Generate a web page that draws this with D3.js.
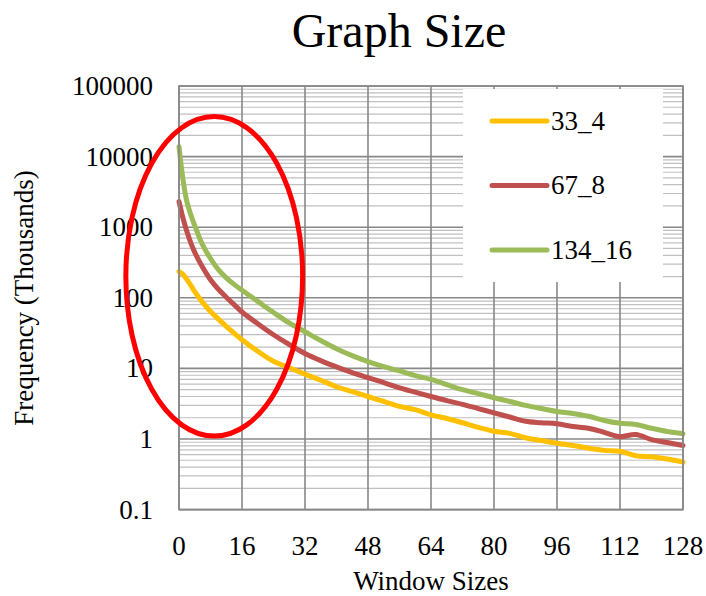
<!DOCTYPE html>
<html>
<head>
<meta charset="utf-8">
<script src="https://cdn.jsdelivr.net/npm/d3@7"></script>
<style>
  body { margin: 0; background: #fff; }
  text { font-family: "Liberation Serif", "DejaVu Serif", serif; fill: #000; }
</style>
</head>
<body>
<div id="chart"></div>
<script>

// window sizes the values were read at
const windowSizes = [0, 1, 2, 3, 4, 6, 8, 10, 12, 14, 16, 20, 24, 28, 32, 36, 40, 44, 48, 52, 56, 60,
  64, 68, 72, 76, 80, 84, 88, 92, 96, 100, 104, 108, 112, 116, 120, 124, 128];

// frequencies in thousands
const g33_4 = [235, 215, 182, 150, 122, 86, 64, 50, 39.5, 31.5, 25.5, 17.5, 12.6, 10.2, 8.3, 6.8, 5.5, 4.7, 4.0, 3.4, 2.9, 2.6,
  2.2, 1.95, 1.7, 1.46, 1.29, 1.2, 1.04, 0.95, 0.87, 0.81, 0.74, 0.69, 0.67, 0.58, 0.56, 0.52, 0.47];
const g67_8 = [2300, 1350, 870, 600, 440, 270, 180, 132, 102, 80, 63, 43, 30, 21.8, 16.3, 12.9, 10.5, 8.7, 7.4, 6.3, 5.3, 4.6,
  4.0, 3.5, 3.1, 2.7, 2.35, 2.05, 1.78, 1.70, 1.64, 1.5, 1.42, 1.24, 1.08, 1.16, 0.98, 0.89, 0.81];
const g134_16 = [13800, 4800, 2300, 1500, 1050, 560, 360, 250, 192, 155, 128, 89, 62, 44, 33, 24.8, 19, 15.2, 12.5, 10.6, 9.2, 7.9,
  7.0, 5.9, 5.0, 4.4, 3.84, 3.4, 3.0, 2.7, 2.45, 2.3, 2.1, 1.83, 1.67, 1.6, 1.42, 1.28, 1.19];

const seriesNames = ["33_4", "67_8", "134_16"];
const seriesColors = ["#FFC000", "#C0504D", "#9BBB59"];
const xTicks = [0, 16, 32, 48, 64, 80, 96, 112, 128];
const yTicks = [0.1, 1, 10, 100, 1000, 10000, 100000];
const yTickLabels = ["0.1", "1", "10", "100", "1000", "10000", "100000"];

// the red ellipse drawn over the first part of the curves (data units)
const ringX = [-13.5, 31.4];
const ringY = [1.1, 37000];

const width = 706, height = 596;
const plot = { left: 179, right: 683, top: 86, bottom: 509.6 };

const svg = d3.select("#chart").append("svg")
  .attr("width", width)
  .attr("height", height);

const x = d3.scaleLinear().domain([0, 128]).range([plot.left, plot.right]);
const y = d3.scaleLog().domain([0.1, 100000]).range([plot.bottom, plot.top]);

// minor horizontal grid
const minor = [];
yTicks.slice(0, -1).forEach(t => {
  for (let k = 2; k <= 9; k++) minor.push(t * k);
});

const grid = svg.append("g");
grid.selectAll(".minor")
  .data(minor)
  .enter().append("line")
  .attr("x1", plot.left).attr("x2", plot.right)
  .attr("y1", d => y(d)).attr("y2", d => y(d))
  .attr("stroke", "#c0c0c0")
  .attr("stroke-width", 1.2);

grid.selectAll(".major")
  .data(yTicks)
  .enter().append("line")
  .attr("x1", plot.left).attr("x2", plot.right)
  .attr("y1", d => y(d)).attr("y2", d => y(d))
  .attr("stroke", "#888")
  .attr("stroke-width", 1.6);

grid.selectAll(".vert")
  .data(xTicks)
  .enter().append("line")
  .attr("x1", d => x(d)).attr("x2", d => x(d))
  .attr("y1", plot.top).attr("y2", plot.bottom)
  .attr("stroke", "#888")
  .attr("stroke-width", 1.6);

// legend background
svg.append("rect")
  .attr("x", 463).attr("y", 89)
  .attr("width", 200).attr("height", 193)
  .attr("fill", "#fff");

// axis labels
svg.append("g").selectAll("text")
  .data(yTicks)
  .enter().append("text")
  .attr("x", 153)
  .attr("y", d => y(d))
  .attr("dy", "0.33em")
  .attr("text-anchor", "end")
  .attr("font-size", 27)
  .text((d, i) => yTickLabels[i]);

svg.append("g").selectAll("text")
  .data(xTicks)
  .enter().append("text")
  .attr("x", d => x(d))
  .attr("y", 555)
  .attr("text-anchor", "middle")
  .attr("font-size", 27)
  .text(d => d);

svg.append("text")
  .attr("x", 399)
  .attr("y", 47)
  .attr("text-anchor", "middle")
  .attr("font-size", 48)
  .text("Graph Size");

svg.append("text")
  .attr("x", 431)
  .attr("y", 590)
  .attr("text-anchor", "middle")
  .attr("font-size", 27)
  .text("Window Sizes");

svg.append("text")
  .attr("transform", "translate(33,298) rotate(-90)")
  .attr("text-anchor", "middle")
  .attr("font-size", 27)
  .text("Frequency (Thousands)");

// series
const series = [g33_4, g67_8, g134_16];
const line = d3.line()
  .x((d, i) => x(windowSizes[i]))
  .y(d => y(d))
  .curve(d3.curveCatmullRom.alpha(0.5));

svg.append("g").selectAll("path")
  .data(series)
  .enter().append("path")
  .attr("d", line)
  .attr("fill", "none")
  .attr("stroke", (d, i) => seriesColors[i])
  .attr("stroke-width", 5)
  .attr("stroke-linejoin", "round")
  .attr("stroke-linecap", "round");

// legend
const legend = svg.append("g").selectAll("g")
  .data(seriesNames)
  .enter().append("g")
  .attr("transform", (d, i) => `translate(0,${121 + i * 64.5})`);

legend.append("line")
  .attr("x1", 492).attr("x2", 547)
  .attr("stroke", (d, i) => seriesColors[i])
  .attr("stroke-width", 5)
  .attr("stroke-linecap", "round");

legend.append("text")
  .attr("x", 551)
  .attr("dy", "0.33em")
  .attr("font-size", 27)
  .text(d => d);

// plot frame
svg.append("rect")
  .attr("x", plot.left).attr("y", plot.top)
  .attr("width", plot.right - plot.left).attr("height", plot.bottom - plot.top)
  .attr("fill", "none")
  .attr("stroke", "#888")
  .attr("stroke-width", 1.6);

// red ring
svg.append("ellipse")
  .attr("cx", (x(ringX[0]) + x(ringX[1])) / 2)
  .attr("cy", (y(ringY[0]) + y(ringY[1])) / 2)
  .attr("rx", (x(ringX[1]) - x(ringX[0])) / 2)
  .attr("ry", (y(ringY[0]) - y(ringY[1])) / 2)
  .attr("fill", "none")
  .attr("stroke", "#FF0000")
  .attr("stroke-width", 5);

</script>
</body>
</html>
